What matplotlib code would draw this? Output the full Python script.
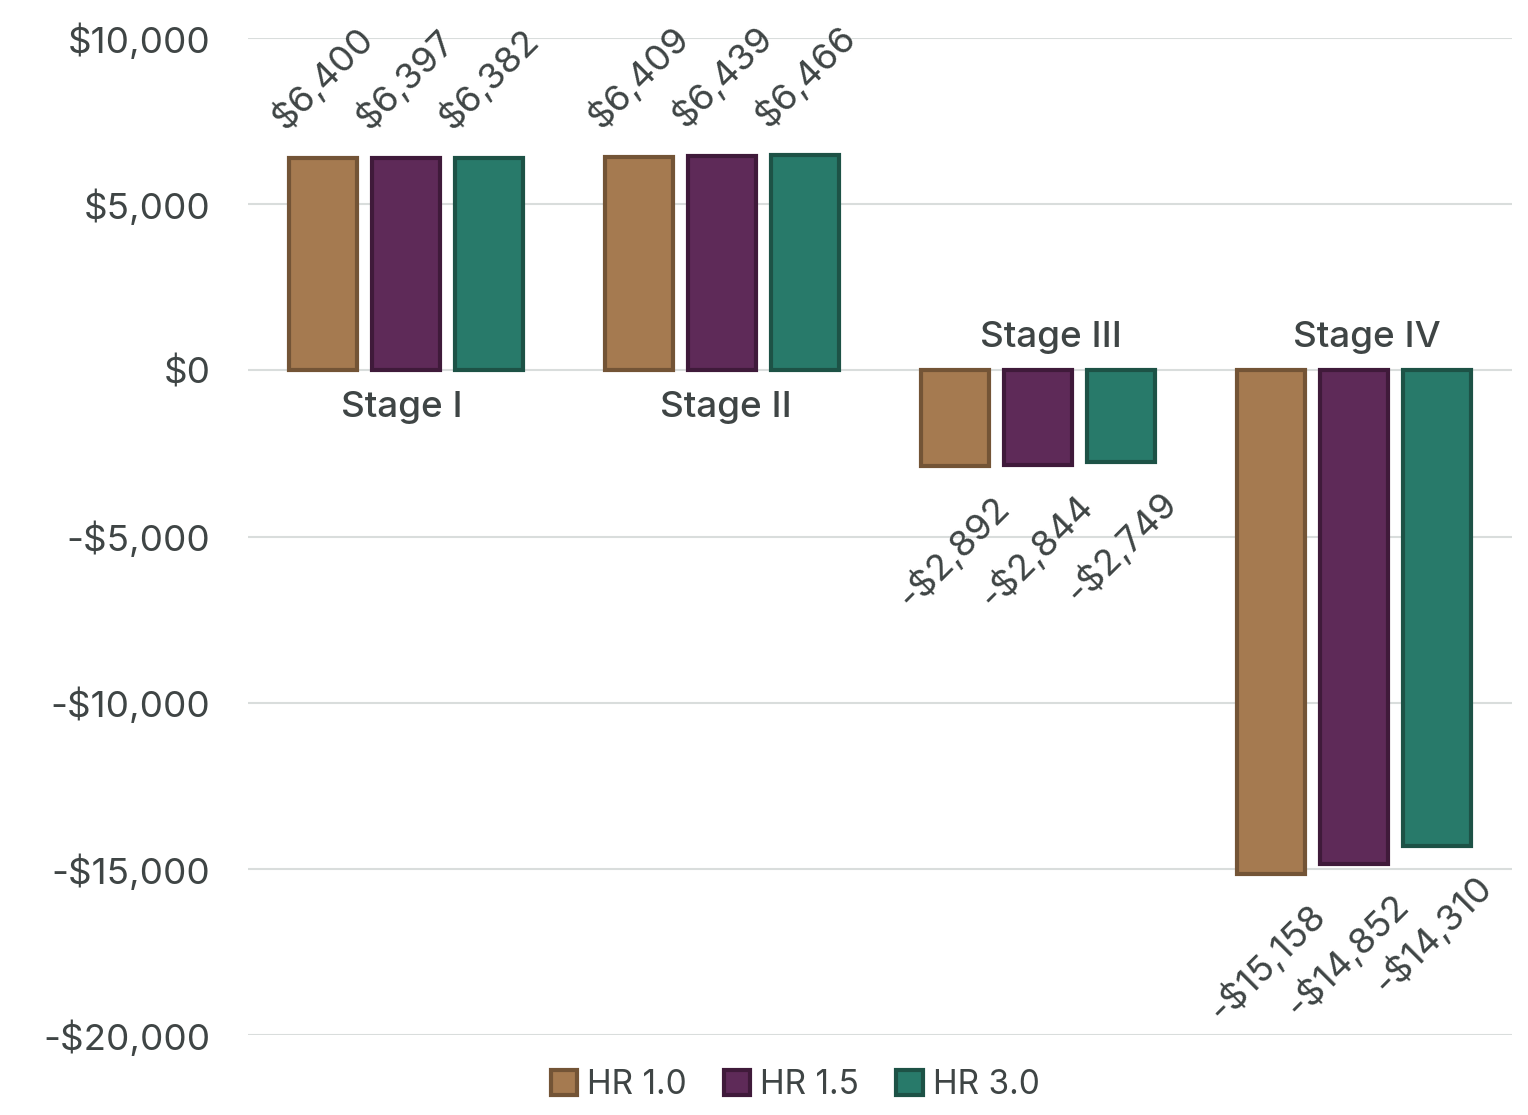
import matplotlib
matplotlib.use("Agg")
import matplotlib.pyplot as plt
import numpy as np
from matplotlib.patches import Patch

plt.rcParams['font.family'] = ['Inter', 'DejaVu Sans']

stages = ["Stage I", "Stage II", "Stage III", "Stage IV"]
series_names = ["HR 1.0", "HR 1.5", "HR 3.0"]
hr_10 = [6400, 6409, -2892, -15158]
hr_15 = [6397, 6439, -2844, -14852]
hr_30 = [6382, 6466, -2749, -14310]
yticks = [10000, 5000, 0, -5000, -10000, -15000, -20000]

fills = ["#A57A50", "#5E2A58", "#287A6A"]
edges = ["#735436", "#3F1A3A", "#1D5246"]
text_color = "#3F4545"

fig = plt.figure(figsize=(15.28, 11.15), dpi=100)
ax = fig.add_axes([0.1623, 0.0717, 0.8272, 0.8942])

x = np.arange(len(stages))
width = 0.215
step = 0.264
all_series = [hr_10, hr_15, hr_30]

for i, vals in enumerate(all_series):
    pos = x + (i - 1) * step
    ax.bar(pos, vals, width=width, color=fills[i], edgecolor=edges[i],
           linewidth=3, zorder=3)
    for xp, v in zip(pos, vals):
        label = f"${v:,}" if v >= 0 else f"-${-v:,}"
        if v >= 0:
            ax.annotate(label, (xp, v), xytext=(-23, 16), textcoords="offset points",
                        rotation=45, rotation_mode="anchor", ha="left", va="bottom",
                        fontsize=26.5, color=text_color)
        else:
            ax.annotate(label, (xp, v), xytext=(26, -16), textcoords="offset points",
                        rotation=45, rotation_mode="anchor", ha="right", va="top",
                        fontsize=26.5, color=text_color)

# Category labels sit on the side of the zero line opposite the bars
label_nudge = [-3, 3, 9, 9]
for xi, name, v, dx in zip(x, stages, hr_10, label_nudge):
    if v >= 0:
        ax.annotate(name, (xi, 0), xytext=(dx, -15), textcoords="offset points",
                    ha="center", va="top", fontsize=26.5, fontweight="medium",
                    color=text_color)
    else:
        ax.annotate(name, (xi, 0), xytext=(dx, 12), textcoords="offset points",
                    ha="center", va="bottom", fontsize=26.5, fontweight="medium",
                    color=text_color)

ax.set_xlim(-0.5, len(stages) - 0.5)
ax.set_ylim(-20000, 10000)
ax.set_yticks(yticks)
ax.set_yticklabels([f"${t:,}" if t >= 0 else f"-${-t:,}" for t in yticks])
ax.tick_params(axis="y", length=0, pad=27, labelsize=26.5, labelcolor=text_color)
ax.set_xticks([])
ax.grid(axis="y", color="#D9DDDC", linewidth=1.5, zorder=0)
for s in ax.spines.values():
    s.set_visible(False)

handles = [Patch(facecolor=fills[i], edgecolor=edges[i], linewidth=3, label=series_names[i])
           for i in range(3)]
fig.legend(handles=handles, loc="center", bbox_to_anchor=(795 / 1528, 1 - 1085 / 1115),
           ncol=3, frameon=False, fontsize=24, handlelength=0.8, handleheight=0.8,
           handletextpad=0.3, columnspacing=1.1, labelcolor=text_color)

fig.savefig("out.png", dpi=100, facecolor="white")
